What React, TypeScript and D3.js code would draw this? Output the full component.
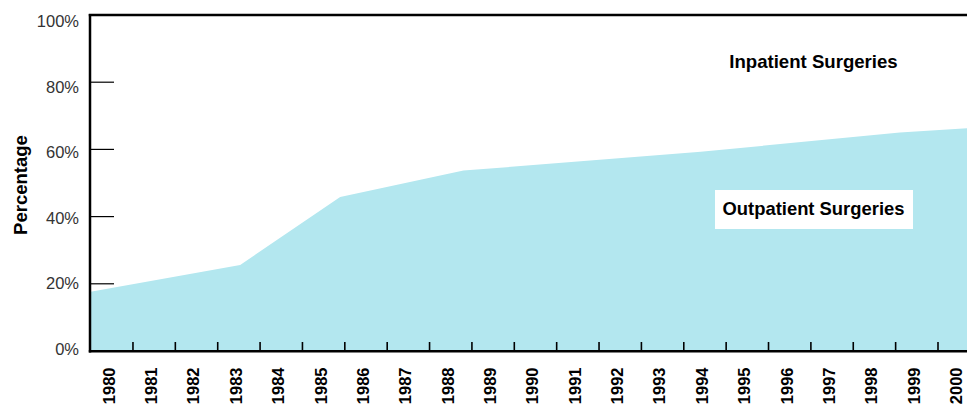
import React from "react";
import * as d3 from "d3";

// ---- data ----
const yearLabels: string[] = d3.range(1980, 2001).map(String);
// outpatient share of surgeries (%), at (fractional) year positions
const pointYears: number[] = [1980, 1983.53, 1985.89, 1988.8, 1994.4, 1999.1, 2000.7];
const outpatientPct: number[] = [17.6, 25.6, 45.8, 53.7, 59.3, 65.0, 66.3];
const yTickValues: number[] = [0, 20, 40, 60, 80, 100];
const yTickLabels: string[] = ["0%", "20%", "40%", "60%", "80%", "100%"];
const upperLabel = "Inpatient Surgeries";
const lowerLabel = "Outpatient Surgeries";
const yTitle = "Percentage";

const W = 967;
const H = 406;
const FONT = "'Liberation Sans', Arial, Helvetica, sans-serif";
const FILL = "#b3e7ef";

export default function App() {
  const left = 90.6;
  const step = 42.37;
  const right = left + step * yearLabels.length;

  const xBand = d3.scaleBand<string>().domain(yearLabels).range([left, right]).padding(0);
  const xLin = d3.scaleLinear().domain([1980, 1980 + yearLabels.length]).range([left, right]);
  const y = d3.scaleLinear().domain([0, 100]).range([351, 15]);
  const yLab = d3.scaleLinear().domain([0, 100]).range([349, 21]);

  const pts = pointYears.map((yr, i) => ({ yr, v: outpatientPct[i] }));
  const area = d3
    .area<{ yr: number; v: number }>()
    .x((d) => xLin(d.yr))
    .y0(y(0))
    .y1((d) => y(d.v))
    .curve(d3.curveLinear);

  const bw = xBand.bandwidth();

  return (
    <svg
      width={W}
      height={H}
      style={{ position: "absolute", left: 0, top: 0, background: "#fff" }}
      fontFamily={FONT}
    >
      <rect x={0} y={0} width={W} height={H} fill="#fff" />
      <path d={area(pts) || ""} fill={FILL} />

      {/* y ticks (inward) */}
      {yTickValues
        .filter((v) => v > 0 && v < 100)
        .map((v) => (
          <line key={"yt" + v} x1={90} x2={114} y1={y(v)} y2={y(v)} stroke="#000" strokeWidth={1.2} />
        ))}
      {/* y tick labels */}
      {yTickValues.map((v, i) => (
        <text
          key={"yl" + v}
          x={79}
          y={yLab(v)}
          dy="0.36em"
          textAnchor="end"
          fontSize={16.5}
          fill="#333"
        >
          {yTickLabels[i]}
        </text>
      ))}

      {/* x ticks at band boundaries */}
      {yearLabels.slice(1).map((yr) => (
        <line
          key={"xt" + yr}
          x1={xBand(yr)!}
          x2={xBand(yr)!}
          y1={342}
          y2={351}
          stroke="#000"
          strokeWidth={1.6}
        />
      ))}
      {/* x labels */}
      {yearLabels.map((yr) => {
        const cx = xBand(yr)! + bw / 2 - 3 + 5.9;
        return (
          <text
            key={"xl" + yr}
            transform={`translate(${cx},367.5) rotate(-90)`}
            textAnchor="end"
            fontSize={16.5}
            fontWeight="bold"
            fill="#000"
          >
            {yr}
          </text>
        );
      })}

      {/* frame */}
      <line x1={88.8} x2={W} y1={15} y2={15} stroke="#000" strokeWidth={2.5} />
      <line x1={90} x2={90} y1={14} y2={352.5} stroke="#000" strokeWidth={2.5} />
      <line x1={88.8} x2={W} y1={351.3} y2={351.3} stroke="#000" strokeWidth={2.6} />

      {/* y title */}
      <text
        transform={`translate(27,185) rotate(-90)`}
        textAnchor="middle"
        fontSize={18.5}
        fontWeight="bold"
        fill="#000"
      >
        {yTitle}
      </text>

      {/* annotations */}
      <text x={813.5} y={67.5} textAnchor="middle" fontSize={18.6} fontWeight="bold" fill="#000">
        {upperLabel}
      </text>
      <rect x={715} y={190} width={198} height={39} fill="#fff" />
      <text x={813.5} y={215} textAnchor="middle" fontSize={18.4} fontWeight="bold" fill="#000">
        {lowerLabel}
      </text>
    </svg>
  );
}
